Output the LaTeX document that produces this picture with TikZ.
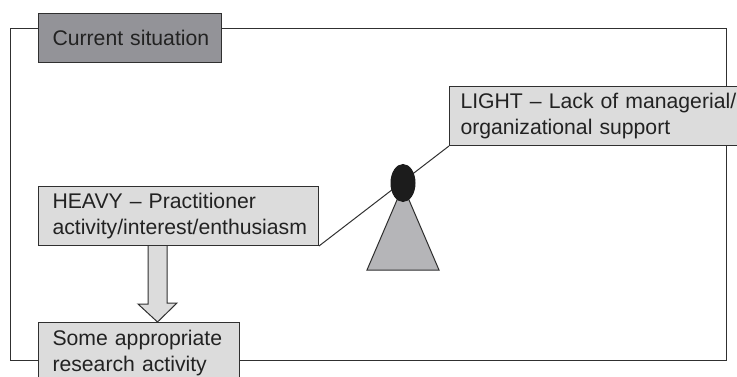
\documentclass[tikz,border=0pt]{standalone}
\usepackage{fontspec}
\setmainfont{Liberation Sans}
\usetikzlibrary{shapes.geometric}
\newcommand{\myboxfont}{\fontsize{21.2}{26}\selectfont}
\definecolor{txt}{HTML}{222222}
\definecolor{ln}{HTML}{303030}
\definecolor{darkbox}{HTML}{939398}
\definecolor{lightbox}{HTML}{DCDCDC}
\definecolor{cone}{HTML}{B5B5B8}
\definecolor{knob}{HTML}{1C1C1C}
\begin{document}
\begin{tikzpicture}[x=1pt,y=-1pt,line width=1pt,
  box/.style={draw=ln, rectangle, anchor=north west, align=left, inner ysep=0pt,
    text=txt, font=\myboxfont},
  lbox/.style={box, fill=lightbox}]
\clip (0,0) rectangle (737,377);
\fill[white] (0,0) rectangle (737,377);
% outer frame
\draw[ln] (10,29) rectangle (726,360);
% boxes
\node[box, fill=darkbox, inner xsep=14pt, text width=155pt, minimum width=183pt, minimum height=49pt] (cur) at (38,13) {\mbox{Current situation}};
\node[lbox, inner xsep=11pt, text width=278pt, minimum width=300pt, minimum height=59pt] (light) at (449,86) {\mbox{LIGHT – Lack of managerial/}\\\mbox{organizational support}};
\node[lbox, inner xsep=14pt, text width=252pt, minimum width=280pt, minimum height=59pt] (heavy) at (38,186) {\mbox{HEAVY – Practitioner}\\\mbox{activity/interest/enthusiasm}};
\node[lbox, inner xsep=14pt, text width=173pt, minimum width=201pt, minimum height=62pt] (some) at (38,322) {\mbox{Some appropriate}\\\mbox{research activity}};
% block arrow from heavy to some
\coordinate (tip) at (157.5,322);
\draw[ln, fill=lightbox, line join=miter]
  ([xshift=110pt]heavy.south west) -- ++(0,58) -- ++(-10,0) -- (tip)
  -- ([xshift=19.5pt,yshift=19pt]tip) -- ++(-10,0) -- ([xshift=129pt]heavy.south west);
% beam
\draw[ln] (heavy.south east) -- (light.south west);
% fulcrum
\coordinate (apex) at (403,186);
\draw[ln, fill=cone] (apex) -- (367,270) -- (439,270) -- cycle;
\node[ellipse, fill=knob, draw=knob, inner sep=0pt, minimum width=24pt, minimum height=37pt] (pivot) at (403,183) {};
\end{tikzpicture}
\end{document}
